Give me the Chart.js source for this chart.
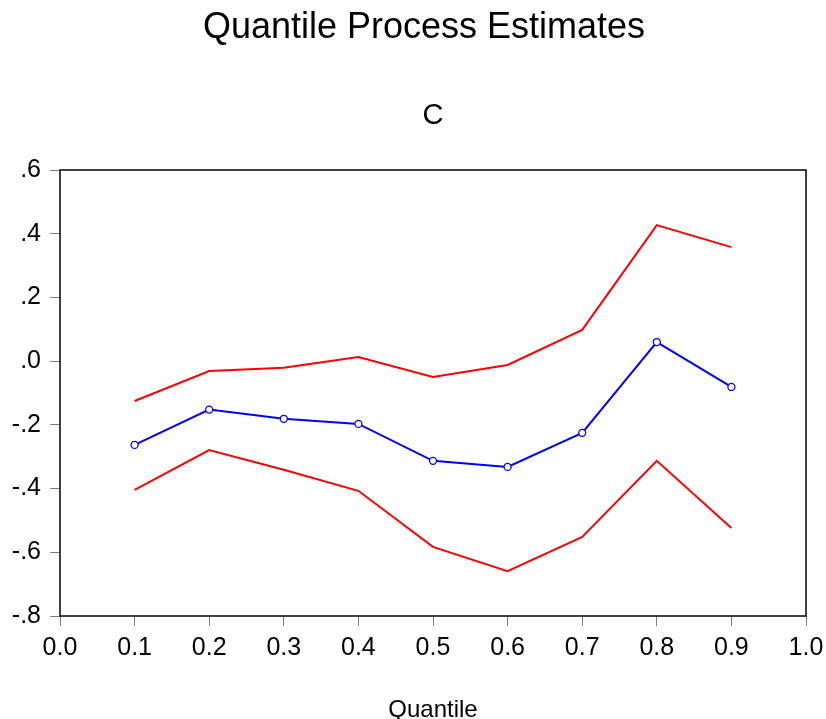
<!DOCTYPE html>
<html>
<head>
<meta charset="utf-8">
<script src="https://cdn.jsdelivr.net/npm/chart.js@4"></script>
<style>
  body { margin: 0; background: #fff; }
  #wrap { width: 826px; height: 719px; }
</style>
</head>
<body>
<div id="wrap"><canvas id="qpChart" width="826" height="719"></canvas></div>
<script>
// quantiles and estimates
var quantiles = [0.1, 0.2, 0.3, 0.4, 0.5, 0.6, 0.7, 0.8, 0.9];
var estimate  = [-0.263, -0.152, -0.181, -0.197, -0.313, -0.332, -0.225, 0.060, -0.081];
var upperBand = [-0.125, -0.031, -0.021, 0.013, -0.050, -0.012, 0.098, 0.427, 0.358];
var lowerBand = [-0.404, -0.279, -0.341, -0.407, -0.583, -0.659, -0.552, -0.313, -0.524];
var xTickLabels = ['0.0', '0.1', '0.2', '0.3', '0.4', '0.5', '0.6', '0.7', '0.8', '0.9', '1.0'];
var yTickLabels = ['-.8', '-.6', '-.4', '-.2', '.0', '.2', '.4', '.6'];
var mainTitle = 'Quantile Process Estimates';
var panelTitle = 'C';

var fontFam = "'Liberation Sans', Arial, sans-serif";

function pts(vals) {
    return quantiles.map(function(q, i) { return { x: q, y: vals[i] }; });
}

// caja alrededor del área del gráfico + títulos
var frameBox = {
    id: 'frameBox',
    afterDatasetsDraw: function(chart) {
        var a = chart.chartArea, c = chart.ctx;
        c.save();
        c.strokeStyle = '#000';
        c.lineWidth = 1.5;
        c.strokeRect(a.left, a.top, a.right - a.left, a.bottom - a.top);
        c.fillStyle = '#000';
        c.textAlign = 'center';
        c.textBaseline = 'middle';
        c.font = '36px ' + fontFam;
        c.fillText(mainTitle, 424, 28);
        c.font = '29px ' + fontFam;
        c.fillText(panelTitle, (a.left + a.right) / 2, 116);
        c.restore();
    }
};

function noOverflow(s) {
    s.paddingLeft = 0; s.paddingRight = 0; s.paddingTop = 0; s.paddingBottom = 0;
}

var ctx = document.getElementById('qpChart').getContext('2d');
var qpChart = new Chart(ctx, {
    type: 'line',
    data: {
        datasets: [{
            data: pts(upperBand),
            borderColor: '#ff0000',
            borderWidth: 2,
            pointRadius: 0,
            tension: 0
        }, {
            data: pts(lowerBand),
            borderColor: '#ff0000',
            borderWidth: 2,
            pointRadius: 0,
            tension: 0
        }, {
            data: pts(estimate),
            borderColor: '#0000ff',
            borderWidth: 2,
            pointRadius: 3.5,
            pointBorderWidth: 1.3,
            pointBackgroundColor: '#fff',
            pointBorderColor: '#0000ff',
            tension: 0
        }]
    },
    options: {
        responsive: false,
        animation: false,
        layout: { padding: { left: 0, right: 20, top: 170, bottom: 0 } },
        plugins: {
            legend: { display: false },
            tooltip: { enabled: false }
        },
        scales: {
            x: {
                type: 'linear',
                min: 0,
                max: 1,
                afterBuildTicks: function(s) {
                    s.ticks = xTickLabels.map(function(t) { return { value: parseFloat(t) }; });
                },
                afterFit: function(s) { s.height = 103; noOverflow(s); },
                grid: { drawOnChartArea: false, drawTicks: true, tickLength: 10, tickColor: '#808080' },
                border: { display: false },
                ticks: {
                    color: '#000',
                    padding: 7,
                    maxRotation: 0,
                    font: { family: fontFam, size: 25 },
                    callback: function(v, i) { return xTickLabels[i]; }
                },
                title: {
                    display: true,
                    text: 'Quantile',
                    color: '#000',
                    font: { family: fontFam, size: 24 },
                    padding: { top: 0, bottom: -6 }
                }
            },
            y: {
                min: -0.8,
                max: 0.6,
                afterBuildTicks: function(s) {
                    s.ticks = yTickLabels.map(function(t) { return { value: parseFloat(t) }; });
                },
                afterFit: function(s) { s.width = 60; noOverflow(s); },
                grid: { drawOnChartArea: false, drawTicks: true, tickLength: 10, tickColor: '#808080' },
                border: { display: false },
                ticks: {
                    color: '#000',
                    padding: 9,
                    font: { family: fontFam, size: 25 },
                    callback: function(v, i) { return yTickLabels[i]; }
                }
            }
        }
    },
    plugins: [frameBox]
});
</script>
</body>
</html>
